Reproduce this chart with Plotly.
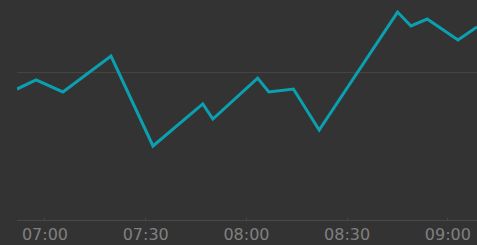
import plotly.graph_objects as go

times = ["2024-01-01 06:51:40", "2024-01-01 06:57:20", "2024-01-01 07:05:20", "2024-01-01 07:19:40",
         "2024-01-01 07:32:10", "2024-01-01 07:47:00", "2024-01-01 07:50:00", "2024-01-01 08:03:20",
         "2024-01-01 08:06:40", "2024-01-01 08:14:00", "2024-01-01 08:21:40", "2024-01-01 08:45:00",
         "2024-01-01 08:49:00", "2024-01-01 08:53:50", "2024-01-01 09:03:00", "2024-01-01 09:08:40"]
values = [88.5, 94.6, 86.5, 110.8, 50.0, 78.4, 68.2, 95.9, 86.5, 88.5, 60.8, 140.5, 131.1, 135.8, 121.6, 130.4]
tick_vals = ["2024-01-01 07:00", "2024-01-01 07:30", "2024-01-01 08:00", "2024-01-01 08:30", "2024-01-01 09:00"]
tick_text = ["07:00", "07:30", "08:00", "08:30", "09:00"]

fig = go.Figure(go.Scatter(x=times, y=values, mode="lines",
                           line=dict(color="#0ba0b0", width=3), hoverinfo="skip"))
fig.update_layout(
    width=477, height=245,
    margin=dict(l=17, r=0, t=0, b=25),
    paper_bgcolor="#333333", plot_bgcolor="#333333",
    showlegend=False,
    font=dict(family="DejaVu Sans", size=16, color="#808080"),
)
fig.update_xaxes(type="date", range=[times[0], times[-1]],
                 tickvals=tick_vals, ticktext=tick_text,
                 showgrid=False, showline=True, linecolor="#484848", linewidth=1,
                 ticks="inside", ticklen=2, tickcolor="#4a4a4a",
                 zeroline=False, automargin=False)
fig.update_yaxes(range=[0, 148.65], dtick=100, showticklabels=False,
                 showgrid=True, gridcolor="#444444", gridwidth=1,
                 zeroline=False, showline=False, ticks="")
fig.write_html("out.html", config={"displayModeBar": False})

with open("out.html", encoding="utf-8") as f:
    html = f.read()
html = html.replace("<head>", "<head><style>html,body{margin:0;padding:0;overflow:hidden;background:#333333}</style>", 1)
with open("out.html", "w", encoding="utf-8") as f:
    f.write(html)
